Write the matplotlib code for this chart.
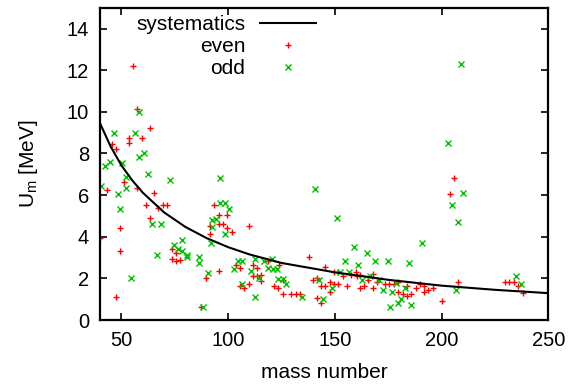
import matplotlib
matplotlib.use('Agg')
import matplotlib.pyplot as plt

plt.rcParams['font.family'] = ['Liberation Sans', 'DejaVu Sans']
plt.rcParams['mathtext.default'] = 'regular'

# systematics curve
sys_A = [40, 45, 50, 55, 60, 70, 80, 90, 100, 110, 125, 150, 175, 200, 225, 250]
sys_U = [9.45, 8.33, 7.43, 6.72, 6.12, 5.17, 4.47, 3.93, 3.5, 3.15, 2.74, 2.29, 1.93, 1.65, 1.45, 1.29]

# even nuclei
even_A = [40.0, 43.4, 45.4, 47.5, 47.6, 49.5, 49.5, 51.4, 53.5, 53.5, 55.4, 57.3, 57.3, 59.5,
          61.5, 63.6, 63.6, 65.5, 67.1, 69.7, 71.5, 73.6, 73.5, 75.4, 75.6, 77.6, 87.5, 89.5,
          91.7, 91.7, 93.4, 95.6, 95.7, 95.6, 97.6, 99.6, 99.5, 101.6, 103.8, 105.6, 105.4,
          107.6, 109.6, 109.6, 111.6, 113.6, 111.7, 113.7, 115.6, 115.6, 118.7, 121.4, 123.8,
          123.5, 125.7, 125.7, 129.4, 131.6, 133.6, 137.8, 139.6, 141.5, 141.5, 143.6, 143.7,
          145.6, 145.6, 147.6, 147.6, 149.7, 149.8, 151.5, 151.6, 153.7, 155.8, 157.8, 159.7,
          160.5, 161.7, 161.7, 163.7, 165.6, 167.7, 167.7, 169.8, 173.6, 175.6, 177.5, 179.4,
          179.8, 181.8, 183.7, 183.7, 185.8, 188.0, 190.0, 191.8, 191.8, 193.7, 195.8, 200.0,
          203.9, 205.8, 207.8, 229.7, 231.7, 233.9, 235.9, 238.0]
even_U = [3.92, 6.22, 8.43, 1.12, 8.2, 4.42, 3.32, 6.61, 8.74, 8.48, 12.2, 10.12, 6.32, 8.72,
          5.5, 9.21, 4.92, 6.12, 5.39, 5.52, 5.52, 3.4, 2.92, 3.2, 2.84, 2.9, 0.64, 2.02,
          4.53, 4.13, 5.52, 5.02, 4.59, 2.33, 4.59, 5.02, 4.43, 4.21, 2.64, 2.52, 1.62,
          1.52, 4.53, 1.72, 2.64, 2.52, 2.13, 2.13, 2.15, 1.88, 2.85, 1.63, 2.64,
          1.54, 1.92, 1.24, 1.23, 1.23, 1.23, 3.02, 1.92, 2.01, 1.04, 1.63, 0.84,
          1.63, 2.54, 1.82, 1.33, 2.32, 1.71, 2.32, 1.71, 2.1, 1.63, 2.15, 2.32,
          2.1, 2.18, 1.52, 1.61, 1.93, 2.2, 1.52, 1.83, 1.72, 1.72, 1.72, 1.84,
          1.35, 1.24, 1.63, 1.14, 1.24, 1.52, 1.71, 1.63, 1.34, 1.44, 1.52, 0.92,
          6.03, 6.8, 1.82, 1.82, 1.82, 1.82, 1.63, 1.32]

# odd nuclei
odd_A = [40.6, 42.5, 44.5, 46.4, 48.4, 49.5, 50.5, 52.4, 52.3, 54.6, 56.4, 58.5, 58.5, 60.4,
         62.5, 64.5, 66.6, 68.5, 72.6, 74.5, 76.5, 78.5, 78.5, 80.6, 80.8, 86.5, 86.5, 88.4,
         90.6, 91.8, 92.6, 92.6, 94.5, 96.4, 96.4, 98.6, 98.5, 100.5, 102.7, 104.6, 106.6,
         106.6, 110.8, 112.7, 112.6, 114.5, 116.7, 118.7, 120.7, 121.1, 122.9, 123.3, 125.5,
         127.1, 134.7, 140.8, 142.5, 144.5, 148.5, 150.8, 152.5, 154.7, 156.5, 159.2, 160.9,
         162.6, 164.9, 166.7, 168.7, 170.6, 172.8, 174.7, 175.8, 176.8, 178.6, 179.7, 180.9,
         182.8, 184.8, 185.9, 190.8, 203.0, 204.7, 206.7, 207.8, 208.9, 209.9, 235.0, 237.0]
odd_U = [6.42, 7.41, 7.6, 9.0, 6.03, 5.32, 7.52, 6.85, 6.32, 2.02, 9.0, 10.0, 7.81, 8.0,
         7.0, 4.61, 3.12, 4.61, 6.73, 3.61, 3.42, 3.82, 3.32, 3.12, 3.04, 3.04, 2.72, 0.64,
         2.24, 3.72, 4.48, 4.8, 4.83, 5.6, 6.8, 5.6, 4.12, 5.31, 2.43, 2.84, 2.84,
         1.72, 2.34, 2.94, 1.12, 2.04, 2.83, 2.5, 2.93, 2.45, 2.43, 1.95, 1.95,
         1.73, 1.12, 6.28, 1.92, 1.03, 1.52, 4.91, 2.32, 2.83, 2.32, 3.52, 2.62,
         1.92, 3.22, 2.12, 2.83, 1.92, 1.44, 2.83, 0.64, 1.33, 1.76, 0.83, 1.01,
         1.52, 2.74, 0.72, 3.72, 8.51, 5.52, 1.44, 4.72, 12.29, 6.11, 2.11, 1.71]

fig = plt.figure(figsize=(5.7, 3.9), dpi=100)
ax = fig.add_axes([100 / 570, 70 / 390, 448.3 / 570, 312.3 / 390])

ax.plot(sys_A, sys_U, color='black', lw=1.5, label='systematics', zorder=3)
ax.plot(even_A, even_U, ls='none', marker='+', ms=5, mew=1.0, color='#ff0000', label='even')
ax.plot(odd_A, odd_U, ls='none', marker='x', ms=4, mew=1.0, color='#00c000', label='odd')

ax.set_xlim(40, 250)
ax.set_ylim(0, 15)
ax.set_xticks([50, 100, 150, 200, 250])
ax.set_yticks([0, 2, 4, 6, 8, 10, 12, 14])
ax.tick_params(direction='in', length=5, width=1.2, top=True, right=True,
               labelsize=14.5, pad=8)
for s in ax.spines.values():
    s.set_linewidth(1.6)

fig.text(324 / 570, 1 - 373 / 390, 'mass number', ha='center', va='center', fontsize=15)
fig.text(28 / 570, 1 - 164 / 390, 'U$_{m}$ [MeV]', ha='center', va='center',
         rotation=90, fontsize=15)

ax.legend(loc='upper right', bbox_to_anchor=(316 / 570, 1 - 15 / 390),
          bbox_transform=fig.transFigure, frameon=False, markerfirst=False,
          borderpad=0, borderaxespad=0, handlelength=2.7, handletextpad=0.7,
          labelspacing=0.15, fontsize=15, numpoints=1)

fig.savefig('out.png', dpi=100)
